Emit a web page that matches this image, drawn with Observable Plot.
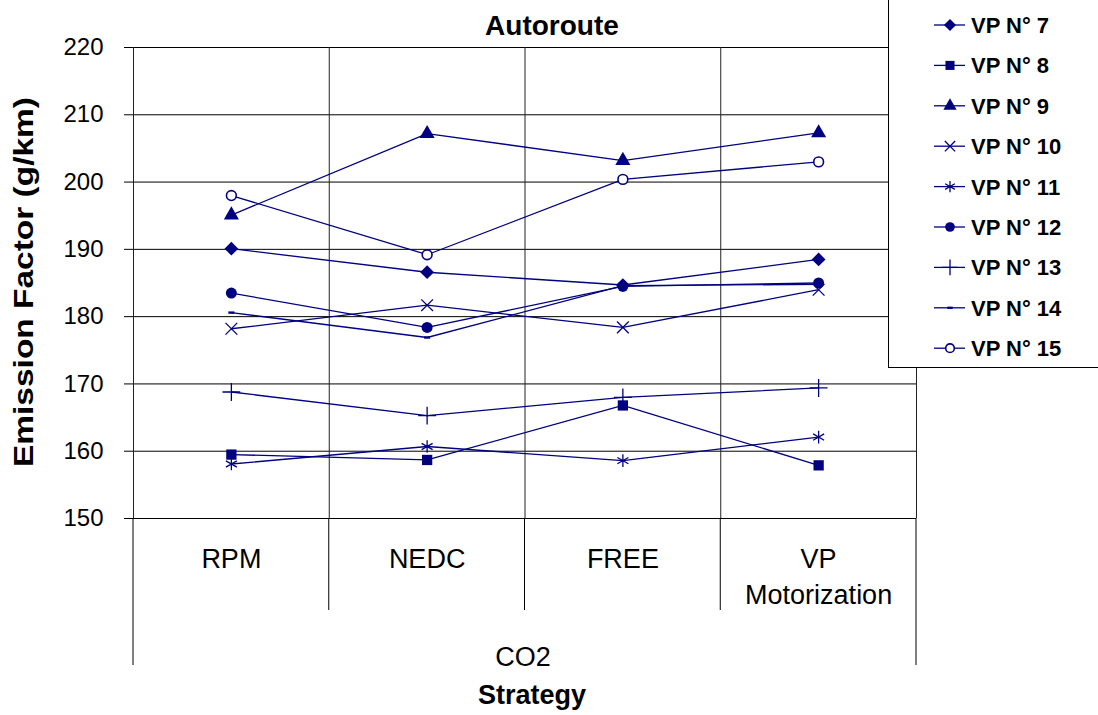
<!DOCTYPE html>
<html>
<head>
<meta charset="utf-8">
<script src="https://cdn.jsdelivr.net/npm/d3@7"></script>
<script src="https://cdn.jsdelivr.net/npm/@observablehq/plot@0.6"></script>
<style>
  body { margin: 0; background: #fff; }
  #chart svg { display: block; }
</style>
</head>
<body>
<div id="chart"></div>
<script>
// ---- data ----
const categories = ["RPM", "NEDC", "FREE", "VP\nMotorization"];
const seriesNames = ["VP N° 7", "VP N° 8", "VP N° 9", "VP N° 10", "VP N° 11", "VP N° 12", "VP N° 13", "VP N° 14", "VP N° 15"];
const vp7  = [190.1, 186.6, 184.7, 188.5];
const vp8  = [159.5, 158.7, 166.8, 157.9];
const vp9  = [195.1, 207.2, 203.2, 207.3];
const vp10 = [178.2, 181.7, 178.4, 184.0];
const vp11 = [158.1, 160.7, 158.6, 162.1];
const vp12 = [183.5, 178.4, 184.5, 185.0];
const vp13 = [168.8, 165.3, 168.0, 169.4];
const vp14 = [180.6, 176.9, 184.6, 184.8];
const vp15 = [198.0, 189.2, 200.4, 203.0];
const yTicks = [150, 160, 170, 180, 190, 200, 210, 220];
const chartTitle = "Autoroute";
const groupLabel = "CO2";
const xTitle = "Strategy";
const yTitle = "Emission Factor (g/km)";

const seriesValues = [vp7, vp8, vp9, vp10, vp11, vp12, vp13, vp14, vp15];
const data = seriesNames.flatMap((s, si) =>
  categories.map((c, ci) => ({ series: s, si, ci, value: seriesValues[si][ci] })));

// ---- styles ----
const NAVY = "#000080";
const FONT = "Arial, 'Liberation Sans', Helvetica, sans-serif";
const dash = { draw(ctx, size) { const w = Math.sqrt(size); ctx.moveTo(-w / 2, 0); ctx.lineTo(w / 2, 0); } };
const markerStyle = [
  { symbol: "diamond2", r: 6.2, filled: true },
  { symbol: "square", r: 5.8, filled: true },
  { symbol: "triangle", r: 5.6, filled: true },
  { symbol: "times", r: 5.4, filled: false, sw: 1.3 },
  { symbol: "asterisk", r: 6.0, filled: false, sw: 1.3 },
  { symbol: "circle", r: 5.5, filled: true },
  { symbol: "plus", r: 5.8, filled: false, sw: 1.3 },
  { symbol: dash, r: 3.4, filled: false, sw: 2.4 },
  { symbol: "circle", r: 4.9, filled: false, sw: 1.6, bg: "white" }
];

const W = 1098, H = 715;
const ML = 133, MR = 182, MT = 47, MB = 197;

const dotMarks = seriesNames.map((s, si) => {
  const st = markerStyle[si];
  return Plot.dot(data.filter(d => d.si === si), {
    x: "ci", y: "value", symbol: st.symbol, r: st.r,
    fill: st.filled ? NAVY : (st.bg || "none"),
    stroke: st.filled ? "none" : NAVY,
    strokeWidth: st.sw || 1
  });
});

const boundaries = d3.range(categories.length + 1).map(i => i - 0.5);

const plot = Plot.plot({
  width: W, height: H,
  marginLeft: ML, marginRight: MR, marginTop: MT, marginBottom: MB,
  style: { fontFamily: FONT, background: "white", color: "black", overflow: "visible" },
  x: { domain: [-0.5, categories.length - 0.5] },
  y: { domain: [150, 220] },
  marks: [
    Plot.ruleY(yTicks, { stroke: "black", strokeWidth: 1 }),
    Plot.ruleX(boundaries, { stroke: "#222", strokeWidth: 1 }),
    Plot.axisY({ ticks: yTicks, tickSize: 9, tickPadding: 21, fontSize: 24, label: null, stroke: "black", fill: "black" }),
    Plot.axisX({ ticks: d3.range(categories.length), tickFormat: i => categories[i], tickSize: 0, tickPadding: 24,
                 fontSize: 27, lineHeight: 1.33, label: null, fill: "black" }),
    Plot.line(data, { x: "ci", y: "value", z: "series", stroke: NAVY, strokeWidth: 1.3 }),
    ...dotMarks
  ]
});

document.getElementById("chart").appendChild(plot);

const svg = d3.select(plot);
const xs = plot.scale("x");
const y0 = H - MB;

// extended category separators below the axis
svg.append("g").attr("stroke", "black").attr("stroke-width", 1)
  .selectAll("line").data(boundaries).join("line")
  .attr("x1", d => xs.apply(d)).attr("x2", d => xs.apply(d))
  .attr("y1", y0).attr("y2", (d, i) => (i === 0 || i === boundaries.length - 1) ? 665 : 610);

// title
svg.append("text").text(chartTitle)
  .attr("x", 552).attr("y", 35).attr("text-anchor", "middle")
  .attr("font-family", FONT).attr("font-weight", "bold").attr("font-size", 28).attr("fill", "black");

// group label + x title
svg.append("text").text(groupLabel)
  .attr("x", 523).attr("y", 666).attr("text-anchor", "middle")
  .attr("font-family", FONT).attr("font-size", 27).attr("fill", "black");
svg.append("text").text(xTitle)
  .attr("x", 532).attr("y", 704).attr("text-anchor", "middle")
  .attr("font-family", FONT).attr("font-weight", "bold").attr("font-size", 27).attr("fill", "black");

// y title
svg.append("text").text(yTitle)
  .attr("transform", "translate(33,282) rotate(-90)").attr("text-anchor", "middle")
  .attr("font-family", FONT).attr("font-weight", "bold").attr("font-size", 27).attr("fill", "black")
  .attr("textLength", 370).attr("lengthAdjust", "spacingAndGlyphs");

// legend
const lg = svg.append("g");
lg.append("rect").attr("x", 888.5).attr("y", -1).attr("width", 215).attr("height", 368.5)
  .attr("fill", "white").attr("stroke", "black").attr("stroke-width", 1);
const symMap = { diamond2: d3.symbolDiamond2, square: d3.symbolSquare, triangle: d3.symbolTriangle,
                 times: d3.symbolTimes, asterisk: d3.symbolAsterisk, plus: d3.symbolPlus };
seriesNames.forEach((s, si) => {
  const st = markerStyle[si];
  const cy = 25 + si * 40.4;
  const g = lg.append("g").attr("transform", `translate(0,${cy})`);
  g.append("line").attr("x1", 934).attr("x2", 965).attr("y1", 0).attr("y2", 0)
    .attr("stroke", NAVY).attr("stroke-width", 1.3);
  const lr = st.r * 0.88;
  if (st.symbol === "circle") {
    g.append("circle").attr("cx", 950).attr("cy", 0).attr("r", lr)
      .attr("fill", st.filled ? NAVY : (st.bg || "none"))
      .attr("stroke", st.filled ? "none" : NAVY).attr("stroke-width", st.sw || 1);
  } else {
    const type = typeof st.symbol === "string" ? symMap[st.symbol] : st.symbol;
    g.append("path").attr("transform", "translate(950,0)")
      .attr("d", d3.symbol(type, lr * lr * Math.PI)())
      .attr("fill", st.filled ? NAVY : "none")
      .attr("stroke", st.filled ? "none" : NAVY).attr("stroke-width", st.sw || 1);
  }
  g.append("text").text(s).attr("x", 971).attr("y", 0).attr("dy", "0.36em")
    .attr("text-anchor", "start")
    .attr("font-family", FONT).attr("font-weight", "bold").attr("font-size", 22).attr("fill", "black");
});
</script>
</body>
</html>
